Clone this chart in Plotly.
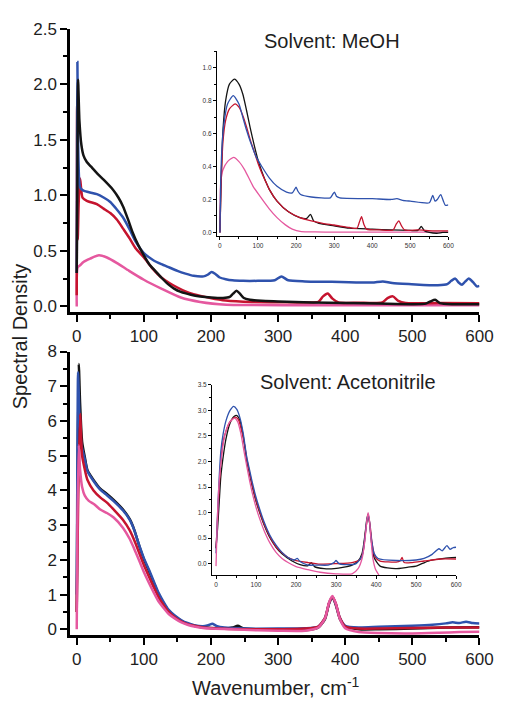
import plotly.graph_objects as go

# ---------------- Methanol: main panel ----------------
meoh_black_x = [0, 1, 2, 4, 7, 10, 15, 21, 30, 40, 54, 62, 69, 76, 83, 91, 100, 108, 117, 126,
                136, 145, 155, 170, 184, 200, 218, 228, 233, 238, 243, 249, 258, 275, 300, 350,
                400, 450, 500, 520, 527, 534, 541, 560, 600]
meoh_black_y = [0.3, 1.2, 2.04, 1.67, 1.45, 1.36, 1.3, 1.26, 1.2, 1.14, 1.05, 0.98, 0.9, 0.79,
                0.67, 0.56, 0.46, 0.38, 0.32, 0.26, 0.2, 0.16, 0.13, 0.105, 0.09, 0.08, 0.075,
                0.085, 0.115, 0.14, 0.115, 0.075, 0.06, 0.05, 0.045, 0.035, 0.03, 0.025, 0.02,
                0.025, 0.045, 0.06, 0.03, 0.02, 0.02]

meoh_blue_x = [0, 0.5, 1, 2, 3.5, 5, 8, 11, 20, 30, 40, 50, 60, 69, 79, 88, 100, 113, 126, 138,
               150, 162, 174, 189, 195, 201, 207, 213, 222, 232, 248, 270, 295, 305, 315, 340,
               393, 440, 456, 470, 499, 538, 552, 558, 564, 569, 574, 579, 584, 590, 596, 600]
meoh_blue_y = [0.3, 1.5, 2.2, 1.5, 1.15, 1.07, 1.05, 1.04, 1.025, 1.01, 0.98, 0.94, 0.87, 0.8,
               0.69, 0.58, 0.48, 0.42, 0.38, 0.35, 0.32, 0.295, 0.275, 0.27, 0.285, 0.31, 0.29,
               0.26, 0.245, 0.235, 0.23, 0.23, 0.235, 0.27, 0.235, 0.225, 0.22, 0.215, 0.225,
               0.21, 0.2, 0.19, 0.2, 0.23, 0.25, 0.215, 0.195, 0.225, 0.25, 0.22, 0.18, 0.185]

meoh_red_x = [0, 0.6, 1.5, 3, 5, 8.6, 15, 30, 40, 50, 60, 69, 79, 88, 100, 113, 126, 138, 150,
              162, 174, 199, 222, 261, 300, 340, 360, 367, 374, 381, 390, 420, 455, 463, 471,
              479, 490, 540, 600]
meoh_red_y = [0.1, 1.8, 0.6, 0.95, 1.15, 0.98, 0.95, 0.92, 0.88, 0.84, 0.78, 0.7, 0.61, 0.52,
              0.44, 0.34, 0.26, 0.21, 0.17, 0.135, 0.11, 0.076, 0.053, 0.04, 0.038, 0.035, 0.04,
              0.09, 0.115, 0.07, 0.035, 0.033, 0.035, 0.075, 0.09, 0.05, 0.03, 0.03, 0.028]

meoh_pink_x = [0, 1.4, 5, 10, 20, 33, 45, 60, 78, 100, 126, 155, 184, 223, 260, 350, 450, 600]
meoh_pink_y = [0.0, 0.35, 0.37, 0.4, 0.43, 0.46, 0.44, 0.39, 0.32, 0.24, 0.16, 0.08, 0.04,
               0.015, 0.012, 0.01, 0.01, 0.01]

# ---------------- Methanol: inset ----------------
meoh_in_black_x = [0, 3, 8, 15, 25, 38, 50, 60, 70, 80, 90, 100, 110, 120, 130, 150, 180, 210,
                   228, 238, 246, 260, 300, 340, 400, 450, 500, 520, 529, 537, 550, 570, 585, 600]
meoh_in_black_y = [0.0, 0.3, 0.62, 0.8, 0.9, 0.93, 0.9, 0.84, 0.74, 0.63, 0.53, 0.44, 0.37,
                   0.31, 0.26, 0.19, 0.125, 0.09, 0.085, 0.11, 0.07, 0.055, 0.04, 0.026, 0.02,
                   0.015, 0.012, 0.012, 0.036, 0.01, 0.0, -0.005, 0.0, 0.0]

meoh_in_blue_x = [0, 2, 5, 10, 20, 35, 50, 60, 70, 80, 95, 110, 130, 150, 175, 190, 196, 200,
                  205, 212, 240, 290, 296, 301, 306, 315, 400, 450, 465, 480, 500, 550, 559, 565,
                  571, 580, 587, 592, 600]
meoh_in_blue_y = [0.0, 0.3, 0.5, 0.65, 0.78, 0.83, 0.78, 0.7, 0.62, 0.55, 0.46, 0.4, 0.33, 0.28,
                  0.245, 0.24, 0.26, 0.275, 0.25, 0.23, 0.215, 0.21, 0.23, 0.245, 0.22, 0.21,
                  0.205, 0.2, 0.205, 0.195, 0.19, 0.18, 0.225, 0.19, 0.2, 0.23, 0.19, 0.165, 0.168]

meoh_in_red_x = [0, 3, 8, 15, 25, 40, 50, 60, 70, 80, 90, 100, 110, 120, 130, 150, 180, 210,
                 240, 270, 300, 340, 360, 366, 372, 378, 385, 420, 455, 463, 470, 477, 485, 520,
                 560, 600]
meoh_in_red_y = [0.0, 0.28, 0.55, 0.68, 0.75, 0.78, 0.76, 0.71, 0.64, 0.56, 0.49, 0.42, 0.36,
                 0.31, 0.26, 0.19, 0.125, 0.09, 0.07, 0.055, 0.045, 0.03, 0.025, 0.06, 0.095,
                 0.05, 0.02, 0.015, 0.015, 0.05, 0.07, 0.04, 0.015, 0.015, 0.01, 0.01]

meoh_in_pink_x = [0, 2, 8, 20, 36, 50, 65, 87, 105, 129, 150, 172, 190, 214, 250, 300, 400, 600]
meoh_in_pink_y = [0.0, 0.3, 0.38, 0.43, 0.455, 0.43, 0.38, 0.28, 0.22, 0.145, 0.09, 0.046,
                  0.02, 0.005, 0.003, 0.002, 0.002, 0.002]

# ---------------- Acetonitrile: main panel ----------------
acn_black_x = [0, 1, 3, 5, 8, 12, 16, 25, 35, 45, 55, 69, 79, 86, 93, 100, 108, 115, 122, 130,
               137, 147, 156, 165, 175, 188, 200, 220, 232, 240, 248, 270, 300, 340, 360, 370,
               376, 381, 386, 392, 400, 420, 450, 500, 550, 600]
acn_black_y = [0.5, 4.0, 7.64, 6.5, 5.4, 4.96, 4.58, 4.3, 4.05, 3.9, 3.73, 3.45, 3.17, 2.85,
               2.41, 2.02, 1.66, 1.33, 1.0, 0.73, 0.53, 0.36, 0.24, 0.16, 0.1, 0.06, 0.04, 0.02,
               0.05, 0.1, 0.03, 0.0, -0.02, -0.03, 0.05, 0.3, 0.75, 0.93, 0.7, 0.3, 0.08, 0.0,
               0.0, 0.02, 0.05, 0.06]

acn_blue_x = [0, 1, 2, 4, 7, 12, 16, 25, 35, 45, 55, 69, 79, 86, 93, 100, 108, 115, 122, 130,
              137, 147, 156, 165, 175, 188, 196, 202, 208, 220, 250, 300, 340, 360, 370, 376,
              381, 386, 392, 400, 420, 450, 500, 530, 550, 560, 570, 580, 590, 600]
acn_blue_y = [1.0, 5.0, 7.4, 6.2, 5.3, 4.9, 4.55, 4.27, 4.02, 3.86, 3.69, 3.42, 3.15, 2.84,
              2.42, 2.05, 1.7, 1.37, 1.05, 0.77, 0.56, 0.38, 0.26, 0.18, 0.12, 0.09, 0.12, 0.16,
              0.1, 0.05, 0.02, 0.02, 0.03, 0.08, 0.33, 0.75, 0.92, 0.72, 0.33, 0.1, 0.05, 0.07,
              0.1, 0.13, 0.17, 0.2, 0.18, 0.22, 0.18, 0.17]

acn_red_x = [0, 2, 5, 8, 12, 16, 25, 35, 45, 55, 69, 79, 86, 93, 100, 108, 115, 122, 130, 137,
             147, 156, 165, 175, 188, 200, 230, 270, 300, 340, 360, 370, 376, 381, 386, 392,
             400, 420, 450, 500, 550, 600]
acn_red_y = [0.5, 3.5, 6.2, 5.0, 4.6, 4.3, 4.0, 3.8, 3.65, 3.45, 3.15, 2.85, 2.55, 2.2, 1.85,
             1.5, 1.2, 0.92, 0.68, 0.5, 0.33, 0.22, 0.15, 0.1, 0.05, 0.03, 0.01, 0.0, 0.0, 0.02,
             0.08, 0.33, 0.76, 0.94, 0.74, 0.33, 0.08, 0.02, 0.02, 0.04, 0.05, 0.05]

acn_pink_x = [0, 1, 3, 5, 8, 12, 18, 26, 35, 45, 55, 69, 79, 86, 93, 100, 108, 115, 122, 130,
              137, 147, 156, 165, 175, 188, 200, 230, 270, 300, 340, 360, 370, 376, 381, 386,
              392, 400, 420, 450, 500, 540, 570, 600]
acn_pink_y = [0.0, 3.0, 5.3, 4.6, 4.1, 3.85, 3.7, 3.6, 3.45, 3.35, 3.22, 2.92, 2.6, 2.3, 1.98,
              1.65, 1.32, 1.05, 0.8, 0.6, 0.44, 0.3, 0.2, 0.13, 0.08, 0.04, 0.02, 0.0, -0.03,
              -0.04, -0.04, 0.05, 0.32, 0.78, 0.96, 0.74, 0.3, 0.03, -0.08, -0.11, -0.12, -0.1,
              -0.08, -0.07]

# ---------------- Acetonitrile: inset ----------------
acn_in_black_x = [0, 4, 8, 12, 18, 25, 35, 45, 52, 60, 68, 77, 84, 91, 100, 109, 120, 135, 150,
                  165, 190, 210, 230, 238, 246, 270, 295, 320, 340, 355, 365, 372, 377, 380, 383,
                  388, 395, 410, 448, 480, 500, 530, 570, 600]
acn_in_black_y = [0.3, 0.7, 1.2, 1.7, 2.1, 2.45, 2.75, 2.88, 2.9, 2.8, 2.5, 2.0, 1.75, 1.5,
                  1.22, 1.0, 0.76, 0.5, 0.32, 0.19, 0.05, -0.02, -0.04, 0.02, -0.06, -0.1, -0.1,
                  -0.07, -0.03, 0.05, 0.2, 0.55, 0.88, 0.97, 0.85, 0.45, 0.12, -0.05, -0.1, -0.07,
                  -0.05, 0.05, 0.1, 0.12]

acn_in_blue_x = [0, 4, 8, 12, 18, 25, 35, 44, 52, 60, 68, 77, 84, 91, 100, 109, 120, 135, 150,
                 165, 180, 195, 203, 210, 230, 254, 280, 295, 300, 307, 320, 350, 365, 372, 377,
                 380, 383, 388, 395, 405, 450, 500, 520, 540, 557, 565, 577, 585, 592, 600]
acn_in_blue_y = [0.2, 1.0, 1.7, 2.2, 2.55, 2.8, 3.0, 3.08, 3.02, 2.85, 2.55, 2.08, 1.83, 1.58,
                 1.3, 1.07, 0.82, 0.55, 0.36, 0.22, 0.12, 0.07, 0.1, 0.04, -0.03, -0.03, -0.03,
                 0.02, 0.06, 0.0, -0.02, 0.0, 0.15, 0.5, 0.85, 0.95, 0.85, 0.5, 0.2, 0.1, 0.06,
                 0.07, 0.1, 0.18, 0.29, 0.25, 0.35, 0.28, 0.31, 0.32]

acn_in_red_x = [0, 4, 8, 12, 18, 25, 35, 48, 56, 64, 72, 77, 84, 91, 100, 109, 120, 135, 150,
                165, 180, 200, 230, 260, 300, 340, 360, 368, 374, 380, 385, 390, 398, 410, 450,
                460, 465, 470, 490, 520, 560, 600]
acn_in_red_y = [0.3, 0.9, 1.5, 2.0, 2.4, 2.6, 2.78, 2.87, 2.82, 2.6, 2.3, 2.05, 1.78, 1.52,
                1.24, 1.02, 0.78, 0.52, 0.33, 0.21, 0.12, 0.06, 0.02, -0.01, 0.0, 0.02, 0.08,
                0.25, 0.65, 0.93, 0.75, 0.4, 0.12, 0.05, 0.03, 0.05, 0.12, 0.02, 0.02, 0.05,
                0.09, 0.09]

acn_in_pink_x = [0, 3, 7, 12, 18, 25, 35, 46, 54, 62, 70, 77, 84, 91, 100, 109, 120, 135, 150,
                 165, 180, 200, 230, 260, 300, 340, 355, 365, 372, 377, 380, 383, 387, 392, 398,
                 405, 412]
acn_in_pink_y = [-0.05, 0.8, 1.5, 1.95, 2.35, 2.6, 2.78, 2.85, 2.78, 2.55, 2.2, 1.9, 1.62, 1.37,
                 1.1, 0.88, 0.65, 0.4, 0.22, 0.1, 0.02, -0.06, -0.12, -0.17, -0.2, -0.2, -0.1,
                 0.1, 0.45, 0.85, 1.0, 0.88, 0.5, 0.1, -0.1, -0.2, -0.3]

# Tick labels
main_x_ticks = [0, 100, 200, 300, 400, 500, 600]
meoh_y_ticks = [0.0, 0.5, 1.0, 1.5, 2.0, 2.5]
acn_y_ticks = [0, 1, 2, 3, 4, 5, 6, 7, 8]
meoh_in_y_ticks = [0.0, 0.2, 0.4, 0.6, 0.8, 1.0]
acn_in_y_ticks = [0.0, 0.5, 1.0, 1.5, 2.0, 2.5, 3.0, 3.5]

BLACK = "#141414"
BLUE = "#2f52ad"
RED = "#c5142e"
PINK = "#e5589f"

W, H = 510, 702


def fx(px):
    return px / W


def fy(px):
    return 1 - px / H


fig = go.Figure()


def add(xs, ys, color, axis, width):
    fig.add_trace(go.Scatter(
        x=xs, y=ys, mode="lines",
        line=dict(color=color, width=width, shape="spline", smoothing=0.6),
        xaxis="x" + axis, yaxis="y" + axis, hoverinfo="skip", showlegend=False,
        cliponaxis=True,
    ))


# main panels
add(meoh_pink_x, meoh_pink_y, PINK, "", 2.5)
add(meoh_red_x, meoh_red_y, RED, "", 2.5)
add(meoh_blue_x, meoh_blue_y, BLUE, "", 2.5)
add(meoh_black_x, meoh_black_y, BLACK, "", 2.5)

add(acn_black_x, acn_black_y, BLACK, "2", 2.5)
add(acn_blue_x, acn_blue_y, BLUE, "2", 2.5)
add(acn_red_x, acn_red_y, RED, "2", 2.5)
add(acn_pink_x, acn_pink_y, PINK, "2", 2.5)

# insets
add(meoh_in_pink_x, meoh_in_pink_y, PINK, "3", 1.3)
add(meoh_in_black_x, meoh_in_black_y, BLACK, "3", 1.3)
add(meoh_in_red_x, meoh_in_red_y, RED, "3", 1.3)
add(meoh_in_blue_x, meoh_in_blue_y, BLUE, "3", 1.3)

add(acn_in_black_x, acn_in_black_y, BLACK, "4", 1.3)
add(acn_in_red_x, acn_in_red_y, RED, "4", 1.3)
add(acn_in_blue_x, acn_in_blue_y, BLUE, "4", 1.3)
add(acn_in_pink_x, acn_in_pink_y, PINK, "4", 1.3)

FONT = "Liberation Sans, Arial, sans-serif"
TXT = "#1e1e1e"


def main_axis(domain, rng, ticks, fmt, minor_dtick, anchor):
    return dict(
        domain=domain, range=rng, anchor=anchor, showgrid=False, zeroline=False,
        showline=True, linecolor="#000", linewidth=2.5, ticks="outside", ticklen=7,
        tickwidth=2, tickcolor="#000", tickvals=ticks, tickformat=fmt,
        tickfont=dict(family=FONT, size=17, color=TXT),
        minor=dict(ticks="outside", ticklen=4, tickwidth=1.5, tickcolor="#000",
                   dtick=minor_dtick, tick0=0, showgrid=False),
    )


def inset_axis(domain, rng, ticks, fmt, minor_dtick, anchor):
    return dict(
        domain=domain, range=rng, anchor=anchor, showgrid=False, zeroline=False,
        showline=True, linecolor="#000", linewidth=1, ticks="outside", ticklen=3,
        tickwidth=1, tickcolor="#000", tickvals=ticks, tickformat=fmt,
        tickfont=dict(family=FONT, size=6.5, color="#333"),
        minor=dict(ticks="outside", ticklen=2, tickwidth=0.8, tickcolor="#000",
                   dtick=minor_dtick, tick0=0, showgrid=False),
    )


fig.update_layout(
    width=W, height=H, margin=dict(l=0, r=0, t=0, b=0),
    paper_bgcolor="white", plot_bgcolor="rgba(0,0,0,0)",
    xaxis=main_axis([fx(72), fx(493)], [-10, 600], main_x_ticks, "d", 50, "y"),
    yaxis=main_axis([fy(309), fy(20)], [-0.053, 2.5], meoh_y_ticks, ".1f", 0.25, "x"),
    xaxis2=main_axis([fx(72), fx(493)], [-10, 600], main_x_ticks, "d", 50, "y2"),
    yaxis2=main_axis([fy(638), fy(349)], [-0.17, 8], acn_y_ticks, "d", 0.5, "x2"),
    xaxis3=inset_axis([fx(223), fx(461)], [-8, 600], main_x_ticks, "d", 50, "y3"),
    yaxis3=inset_axis([fy(231), fy(43)], [-0.02, 1.1], meoh_in_y_ticks, ".1f", 0.1, "x3"),
    xaxis4=inset_axis([fx(218), fx(469)], [-10, 600], main_x_ticks, "d", 50, "y4"),
    yaxis4=inset_axis([fy(577), fy(383)], [-0.23, 3.5], acn_in_y_ticks, ".1f", 0.25, "x4"),
)

ann_font = dict(family=FONT, size=20, color=TXT)
fig.add_annotation(text="Solvent: MeOH", x=fx(341), y=fy(33), xref="paper", yref="paper",
                   showarrow=False, font=ann_font, xanchor="center", yanchor="middle")
fig.add_annotation(text="Solvent: Acetonitrile", x=fx(358), y=fy(380), xref="paper",
                   yref="paper", showarrow=False, font=ann_font, xanchor="center",
                   yanchor="middle")
fig.add_annotation(text="Spectral Density", x=fx(20), y=fy(333), xref="paper", yref="paper",
                   showarrow=False, font=dict(family=FONT, size=20, color=TXT),
                   textangle=-90, xanchor="center", yanchor="middle")
fig.add_annotation(text="Wavenumber, cm<sup>-1</sup>", x=fx(284), y=fy(690), xref="paper",
                   yref="paper", showarrow=False, font=dict(family=FONT, size=20, color=TXT),
                   xanchor="center", yanchor="middle")

fig.write_html("out.html")
